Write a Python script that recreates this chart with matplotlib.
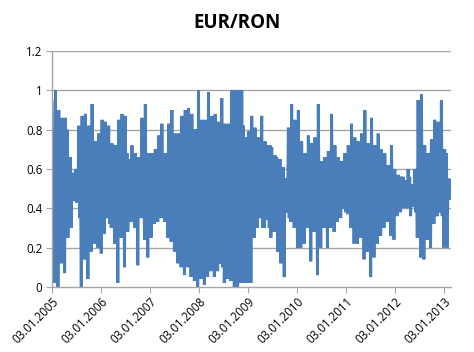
import numpy as np
import matplotlib
matplotlib.use("Agg")
import matplotlib.pyplot as plt

# Upper and lower extremes of the daily series, read per ~3-pixel column
upper = [0.94, 1.00, 0.90, 0.86, 0.86, 0.66, 0.58, 0.60, 0.82, 0.87,
         0.88, 0.82, 0.93, 0.74, 0.78, 0.85, 0.84, 0.82, 0.73, 0.72,
         0.85, 0.88, 0.87, 0.65, 0.72, 0.68, 0.66, 0.86, 0.93, 0.68,
         0.68, 0.70, 0.77, 0.83, 0.68, 0.83, 0.90, 0.78, 0.78, 0.87,
         0.90, 0.91, 0.88, 0.80, 1.00, 0.85, 0.85, 0.99, 0.87, 0.88,
         0.84, 0.96, 0.83, 0.83, 1.00, 1.00, 1.00, 1.00, 0.76, 0.79,
         0.87, 0.81, 0.76, 0.87, 0.74, 0.72, 0.71, 0.67, 0.65, 0.61,
         0.55, 0.81, 0.93, 0.85, 0.90, 0.74, 0.68, 0.77, 0.73, 0.76,
         0.93, 0.64, 0.66, 0.69, 0.88, 0.72, 0.66, 0.64, 0.68, 0.72,
         0.83, 0.76, 0.74, 0.78, 0.90, 0.73, 0.86, 0.72, 0.78, 0.70,
         0.68, 0.62, 0.72, 0.60, 0.57, 0.56, 0.54, 0.60, 0.52, 0.60,
         0.95, 0.98, 0.72, 0.68, 0.75, 0.85, 0.84, 0.95, 0.70, 0.55]
lower = [0.02, 0.00, 0.12, 0.07, 0.25, 0.30, 0.44, 0.43, 0.00, 0.14,
         0.04, 0.18, 0.22, 0.20, 0.17, 0.27, 0.35, 0.30, 0.22, 0.02,
         0.25, 0.10, 0.28, 0.33, 0.30, 0.11, 0.35, 0.24, 0.15, 0.25,
         0.32, 0.33, 0.35, 0.33, 0.25, 0.23, 0.18, 0.12, 0.10, 0.06,
         0.10, 0.05, 0.03, 0.00, 0.04, 0.01, 0.05, 0.08, 0.05, 0.08,
         0.12, 0.02, 0.04, 0.03, 0.00, 0.00, 0.02, 0.02, 0.02, 0.02,
         0.25, 0.30, 0.35, 0.30, 0.34, 0.25, 0.28, 0.18, 0.12, 0.05,
         0.38, 0.33, 0.30, 0.20, 0.20, 0.22, 0.30, 0.13, 0.28, 0.06,
         0.20, 0.30, 0.20, 0.30, 0.28, 0.33, 0.35, 0.40, 0.37, 0.30,
         0.22, 0.22, 0.25, 0.14, 0.18, 0.05, 0.15, 0.22, 0.26, 0.30,
         0.33, 0.26, 0.24, 0.36, 0.38, 0.40, 0.40, 0.36, 0.41, 0.25,
         0.15, 0.14, 0.24, 0.20, 0.32, 0.36, 0.38, 0.20, 0.20, 0.45]

# Dense core band of the series, read per ~5-month segment (6 columns each)
core_hi = [0.80, 0.65, 0.70, 0.68, 0.65, 0.63, 0.72, 0.80, 0.82, 0.82,
           0.72, 0.66, 0.64, 0.62, 0.63, 0.65, 0.62, 0.56, 0.63, 0.68]
core_lo = [0.25, 0.35, 0.32, 0.35, 0.36, 0.38, 0.25, 0.15, 0.10, 0.12,
           0.30, 0.35, 0.36, 0.38, 0.38, 0.36, 0.38, 0.44, 0.38, 0.36]

start_year = 2005.0
end_year = 2013.13
tick_years = [2005, 2006, 2007, 2008, 2009, 2010, 2011, 2012, 2013]
tick_labels = ["03.01.%d" % y for y in tick_years]
y_ticks = [0, 0.2, 0.4, 0.6, 0.8, 1, 1.2]
y_labels = ["0", "0.2", "0.4", "0.6", "0.8", "1", "1.2"]

up = np.array(upper)
lo = np.array(lower)
n = len(up)
chi = np.minimum(np.repeat(core_hi, 6)[:n], up)
clo = np.maximum(np.repeat(core_lo, 6)[:n], lo)
series = np.column_stack([up, clo, chi, lo]).ravel()
x = np.linspace(start_year, end_year, len(series))

fig = plt.figure(figsize=(4.74, 3.52), dpi=100)
ax = fig.add_axes([0.110, 0.185, 0.841, 0.670])

grid_c = "#a6a6a6"
ax.plot(x, series, color="#4A7EBB", linewidth=2.1, solid_joinstyle="miter")

ax.set_xlim(start_year, end_year + 0.005)
ax.set_ylim(0, 1.2)
ax.set_yticks(y_ticks)
ax.set_yticklabels(y_labels)
ax.set_xticks(tick_years)
ax.set_xticklabels(tick_labels, rotation=45, ha="right", va="top",
                   rotation_mode="anchor")
for y in y_ticks[1:]:
    ax.axhline(y, color=grid_c, linewidth=1.0, zorder=0)

for s in ["top", "right"]:
    ax.spines[s].set_visible(False)
for s in ["left", "bottom"]:
    ax.spines[s].set_color(grid_c)
    ax.spines[s].set_linewidth(1.0)

ax.tick_params(axis="y", direction="out", length=4, color=grid_c,
               labelsize=8.3, pad=3, labelcolor="#000000")
ax.tick_params(axis="x", direction="out", length=4, color=grid_c,
               labelsize=8.3, pad=2, labelcolor="#000000")
for lab in ax.get_xticklabels() + ax.get_yticklabels():
    lab.set_fontfamily(["Open Sans", "DejaVu Sans"])

fig.text(0.5, 0.935, "EUR/RON", ha="center", va="center",
         fontsize=13.5, fontweight="bold", family=["Open Sans", "DejaVu Sans"])

fig.savefig("out.png", dpi=100)
